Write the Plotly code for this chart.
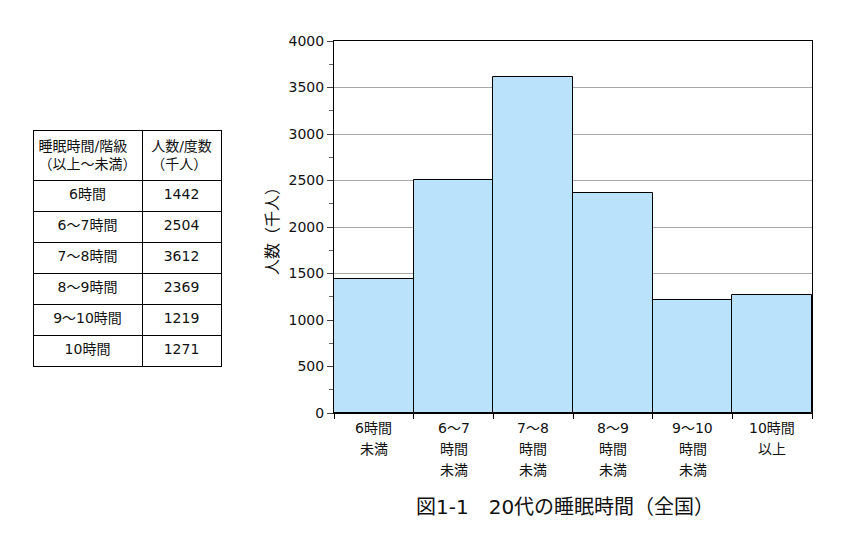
import plotly.graph_objects as go

categories = ["6時間未満", "6〜7時間未満", "7〜8時間未満", "8〜9時間未満", "9〜10時間未満", "10時間以上"]
tick_labels = ["6時間<br>未満", "6〜7<br>時間<br>未満", "7〜8<br>時間<br>未満",
               "8〜9<br>時間<br>未満", "9〜10<br>時間<br>未満", "10時間<br>以上"]
values = [1442, 2504, 3612, 2369, 1219, 1271]
table_classes = ["6時間", "6〜7時間", "7〜8時間", "8〜9時間", "9〜10時間", "10時間"]
table_header = ["睡眠時間/階級<br>（以上〜未満）", "人数/度数<br>（千人）"]

FONT = "DejaVu Sans, Noto Sans CJK JP, sans-serif"
W, H = 843, 535
OFF = 8  # page body margin offset
L, R, T, B = 334 - OFF, 812 - OFF, 41 - OFF, 413 - OFF

fig = go.Figure()

fig.add_trace(go.Table(
    domain=dict(x=[(33 - OFF) / W, (221 - OFF) / W], y=[0, 1 - (130 - OFF) / H]),
    columnwidth=[109, 79],
    header=dict(values=table_header, height=50, align="center",
                fill_color="white", line=dict(color="black", width=1),
                font=dict(family=FONT, size=14, color="#111")),
    cells=dict(values=[table_classes, values], height=31, align="center",
               fill_color="white", line=dict(color="black", width=1),
               font=dict(family=FONT, size=14, color="#111")),
))

fig.add_trace(go.Bar(
    x=categories, y=values, width=1,
    marker=dict(color="#BAE3FB", line=dict(color="black", width=1)),
    showlegend=False, hoverinfo="x+y",
))

annotations = []
for cat, lab in zip(categories, tick_labels):
    for j, line in enumerate(lab.split("<br>")):
        annotations.append(dict(
            x=cat, xref="x", y=1 - B / H, yref="paper", yanchor="middle",
            yshift=-(15 + 21 * j), text=line, showarrow=False,
            font=dict(family=FONT, size=14, color="#111")))

annotations.append(dict(
    x=(565 - OFF) / W, xref="paper", y=1 - (507 - OFF) / H, yref="paper",
    xanchor="center", yanchor="middle", showarrow=False,
    text="図1-1　20代の睡眠時間（全国）",
    font=dict(family=FONT, size=20, color="#111")))

ydom = [1 - B / H, 1 - T / H]

fig.update_layout(
    width=W, height=H,
    margin=dict(l=0, r=0, t=0, b=0, pad=0),
    paper_bgcolor="white", plot_bgcolor="white",
    bargap=0,
    font=dict(family=FONT, size=14, color="#111"),
    annotations=annotations,
    xaxis=dict(domain=[L / W, R / W], type="category", tickson="boundaries",
               ticks="outside", ticklen=5, tickcolor="black",
               showticklabels=False, automargin=False,
               showline=True, linecolor="black", linewidth=1, mirror=True,
               showgrid=False, range=[-0.5, 5.5], fixedrange=True),
    yaxis=dict(domain=ydom, range=[0, 4000], dtick=500, ticks="outside",
               ticklen=6, automargin=False,
               tickcolor="#444", showline=True, linecolor="black",
               linewidth=1, mirror=True, showgrid=True, gridcolor="#a8a8a8",
               gridwidth=1, zeroline=False,
               minor=dict(dtick=250, ticks="outside", ticklen=4,
                          tickcolor="#666", showgrid=False),
               tickfont=dict(family=FONT, size=14, color="#111"),
               title=dict(text="人数（千人）", standoff=5,
                          font=dict(family=FONT, size=16, color="#111"))),
    yaxis2=dict(domain=ydom, overlaying="y", side="right", matches="y",
                range=[0, 4000], anchor="x", automargin=False,
                dtick=500, ticks="inside", ticklen=6, tickcolor="#444",
                showticklabels=False, showgrid=False, zeroline=False,
                showline=False,
                minor=dict(dtick=250, ticks="inside", ticklen=4,
                           tickcolor="#666")),
)

fig.write_html("out.html")
